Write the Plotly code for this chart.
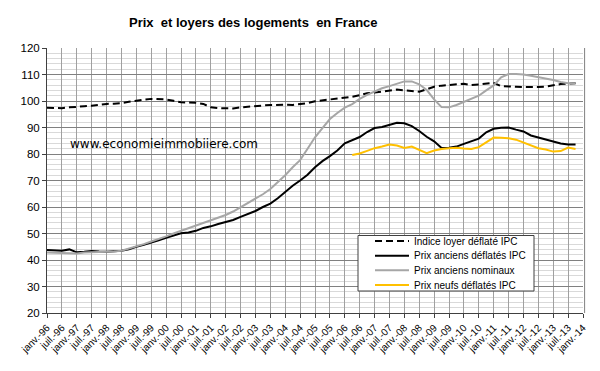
import plotly.graph_objects as go

# Quarterly index: 0 = janv.-96 ... 71 = oct.-13
quarter_index = list(range(72))

loyer_deflate = [97.5, 97.3, 97.3, 97.6, 97.9, 98.0, 98.2, 98.6, 98.9, 99.0, 99.2, 99.7,
                 100.2, 100.5, 100.8, 100.8, 100.6, 100.1, 99.5, 99.4, 99.3, 98.9, 97.6, 97.3,
                 97.2, 97.2, 97.6, 97.9, 98.1, 98.3, 98.5, 98.6, 98.6, 98.5, 98.9, 99.2,
                 99.9, 100.2, 100.5, 100.9, 101.2, 101.6, 102.2, 102.9, 103.2, 103.6, 104.1, 104.3,
                 104.0, 103.8, 103.5, 104.4, 105.4, 105.8, 106.1, 106.4, 106.5, 106.0, 106.3, 106.6,
                 106.8, 105.6, 105.4, 105.4, 105.3, 105.2, 105.3, 105.4, 105.9, 106.4, 106.6, 106.7]

anciens_deflates = [43.8, 43.6, 43.5, 44.0, 42.9, 43.1, 43.4, 43.2, 43.1, 43.3, 43.5, 44.0,
                    45.0, 45.7, 46.5, 47.4, 48.4, 49.2, 50.1, 50.4, 51.0, 52.1, 52.7, 53.6,
                    54.3, 55.1, 56.3, 57.3, 58.5, 60.0, 61.3, 63.3, 65.8, 68.0, 70.0, 72.2,
                    75.0, 77.3, 79.2, 81.3, 84.0, 85.3, 86.4, 88.3, 89.8, 90.2, 91.0, 91.8,
                    91.6, 90.5, 88.7, 86.5, 84.8, 82.3, 82.4, 82.8, 83.8, 84.7, 85.8, 88.2,
                    89.5, 89.9, 90.0, 89.2, 88.5, 87.0, 86.2, 85.6, 84.8, 84.0, 83.6, 83.6]

anciens_nominaux = [42.8, 42.7, 42.6, 42.6, 42.5, 42.8, 42.9, 43.0, 43.0, 43.2, 43.5, 44.3,
                    45.2, 46.0, 47.0, 47.9, 48.9, 50.0, 51.0, 51.9, 52.9, 53.8, 54.9, 55.8,
                    57.0, 58.3, 59.9, 61.6, 63.0, 64.8, 66.8, 69.3, 72.0, 75.0, 77.7, 82.0,
                    86.3, 89.8, 93.2, 95.5, 97.5, 98.8, 100.8, 102.3, 103.5, 104.8, 105.6, 106.6,
                    107.4, 107.4, 106.3, 104.2, 100.6, 97.7, 97.6, 98.5, 99.6, 100.8, 102.0, 104.0,
                    105.9, 108.9, 110.2, 110.2, 110.0, 109.5, 109.0, 108.5, 107.9, 107.2, 106.7, 106.7]

neufs_deflates = [None] * 41 + [79.6, 80.2, 81.2, 82.2, 82.8, 83.6, 83.2,
                                82.3, 82.8, 81.6, 80.3, 81.3, 81.9, 82.2, 82.4, 82.1, 81.9, 82.6, 84.5,
                                86.2, 86.1, 85.9, 85.4, 84.3, 83.2, 82.2, 81.7, 80.9, 81.1, 82.4, 81.9]

tick_positions = list(range(0, 73, 2))
tick_labels = ["janv.-96", "juil.-96", "janv.-97", "juil.-97", "janv.-98", "juil.-98",
               "janv.-99", "juil.-99", "janv.-00", "juil.-00", "janv.-01", "juil.-01",
               "janv.-02", "juil.-02", "janv.-03", "juil.-03", "janv.-04", "juil.-04",
               "janv.-05", "juil.-05", "janv.-06", "juil.-06", "janv.-07", "juil.-07",
               "janv.-08", "juil.-08", "janv.-09", "juil.-09", "janv.-10", "juil.-10",
               "janv.-11", "juil.-11", "janv.-12", "juil.-12", "janv.-13", "juil.-13",
               "janv.-14"]

series_names = ["Indice loyer déflaté IPC", "Prix anciens déflatés IPC",
                "Prix anciens nominaux", "Prix neufs déflatés IPC"]
series_colors = ["black", "black", "#a6a6a6", "#ffc000"]
series_dash = ["7px,4px", "solid", "solid", "solid"]
series_values = [loyer_deflate, anciens_deflates, anciens_nominaux, neufs_deflates]

W, H = 600, 371
ML, MR, MT, MB = 47, 17, 48, 58
PW, PH = W - ML - MR, H - MT - MB


def px_x(px):
    return (px - ML) / PW


def px_y(py):
    return (H - MB - py) / PH


fig = go.Figure()
for name, vals, col, dash in zip(series_names, series_values, series_colors, series_dash):
    fig.add_trace(go.Scatter(x=quarter_index, y=vals, mode="lines", name=name,
                             line=dict(color=col, width=2, dash=dash)))

fig.update_layout(
    width=W, height=H,
    margin=dict(l=ML, r=MR, t=MT, b=MB),
    paper_bgcolor="white", plot_bgcolor="white",
    font=dict(family="Liberation Sans, Arial, sans-serif", color="black"),
    showlegend=False,
    xaxis=dict(range=[0, 72], tickmode="array", tickvals=tick_positions, ticktext=tick_labels,
               tickangle=-45, tickfont=dict(size=10), showgrid=True, gridcolor="#a0a0a0",
               gridwidth=1, showline=True, linecolor="#404040", linewidth=1,
               ticks="outside", ticklen=4, tickcolor="#404040", zeroline=False),
    yaxis=dict(range=[20, 120], dtick=10, tickfont=dict(size=11.5), showgrid=True,
               gridcolor="#808080", gridwidth=1, showline=True, linecolor="#404040",
               linewidth=1, ticks="outside", ticklen=4, tickcolor="#404040", zeroline=False,
               minor=dict(dtick=2, showgrid=True, gridcolor="#d9d9d9", gridwidth=1)),
)

# right border of plot area
fig.add_shape(type="line", xref="paper", yref="paper", x0=1.003, x1=1.003, y0=0, y1=1,
              line=dict(color="#808080", width=1))

# title
fig.add_annotation(text="<b>Prix  et loyers des logements  en France</b>", xref="paper", yref="paper",
                   x=px_x(253.5), y=px_y(22), xanchor="center", yanchor="middle",
                   showarrow=False, font=dict(size=13, color="black"))

# watermark
fig.add_annotation(text="www.economieimmobiiere.com", xref="paper", yref="paper",
                   x=px_x(68), y=px_y(144), xanchor="left", yanchor="middle",
                   showarrow=False, font=dict(family="DejaVu Sans, Verdana, sans-serif",
                                              size=12, color="black"))

# custom legend (compact, like the original)
fig.add_shape(type="rect", xref="paper", yref="paper", layer="above",
              x0=px_x(358), x1=px_x(534), y0=px_y(291), y1=px_y(235.5),
              fillcolor="white", line=dict(color="#404040", width=1))
row_y = [241, 255.7, 270.3, 285]
for name, col, dash, ry in zip(series_names, series_colors, series_dash, row_y):
    fig.add_shape(type="line", xref="paper", yref="paper", layer="above",
                  x0=px_x(375), x1=px_x(409), y0=px_y(ry), y1=px_y(ry),
                  line=dict(color=col, width=2, dash=dash))
    fig.add_annotation(text=name, xref="paper", yref="paper", x=px_x(412), y=px_y(ry),
                       xanchor="left", yanchor="middle", showarrow=False,
                       font=dict(size=10, color="black"))

fig.write_html("out.html", config={"displayModeBar": False},
               post_script="document.body.style.margin='0';document.body.style.padding='0';")
